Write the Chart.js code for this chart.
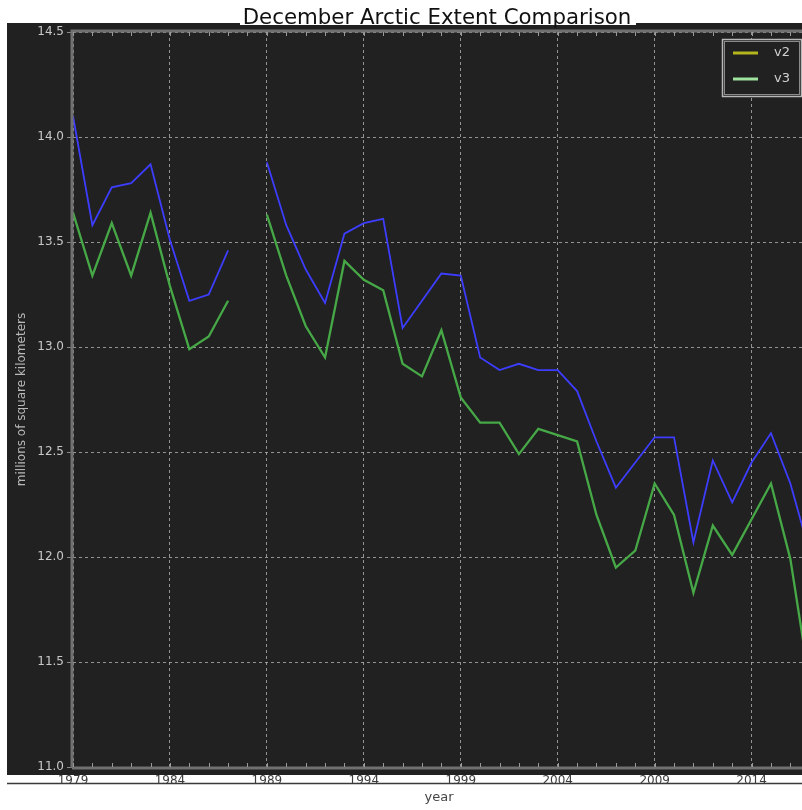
<!DOCTYPE html>
<html>
<head>
<meta charset="utf-8">
<script src="https://cdn.jsdelivr.net/npm/chart.js@4/dist/chart.umd.min.js"></script>
<style>
html,body{margin:0;padding:0;background:#fff;overflow:hidden}
#wrap{position:relative;width:802px;height:810px}
</style>
</head>
<body>
<div id="wrap"><canvas id="c" width="802" height="810"></canvas></div>
<script>
// ---- data ----
const years = [1979,1980,1981,1982,1983,1984,1985,1986,1987,1988,1989,1990,1991,1992,1993,1994,1995,1996,1997,1998,1999,2000,2001,2002,2003,2004,2005,2006,2007,2008,2009,2010,2011,2012,2013,2014,2015,2016,2017];
const v2 = [14.10,13.58,13.76,13.78,13.87,13.51,13.22,13.25,13.46,null,13.88,13.58,13.37,13.21,13.54,13.59,13.61,13.09,13.22,13.35,13.34,12.95,12.89,12.92,12.89,12.89,12.79,12.55,12.33,12.45,12.57,12.57,12.07,12.46,12.26,12.45,12.59,12.35,12.02];
const v3 = [13.64,13.34,13.59,13.34,13.64,13.29,12.99,13.05,13.22,null,13.63,13.34,13.10,12.95,13.41,13.32,13.27,12.92,12.86,13.08,12.76,12.64,12.64,12.49,12.61,12.58,12.55,12.20,11.95,12.03,12.35,12.20,11.83,12.15,12.01,12.18,12.35,11.99,11.40];
const xTickYears = [1979,1984,1989,1994,1999,2004,2009,2014];
const yTickValues = [11.0,11.5,12.0,12.5,13.0,13.5,14.0,14.5];
const seriesNames = ['v2','v3'];
const titleText = 'December Arctic Extent Comparison';
const xAxisTitle = 'year';
const yAxisTitle = 'millions of square kilometers';

const FONT = 'DejaVu Sans';
const gridColor = 'rgba(185,185,185,0.75)';

const pagePlugin = {
  id: 'page',
  beforeDraw(chart) {
    const c = chart.ctx;
    c.save();
    c.fillStyle = '#ffffff';
    c.fillRect(0, 0, chart.width, chart.height);
    c.fillStyle = '#212121';
    c.fillRect(7, 23, chart.width - 7, 752);
    // thin dark rule under the tick labels
    c.strokeStyle = '#3a3a3a';
    c.lineWidth = 1.5;
    c.beginPath(); c.moveTo(7, 783.5); c.lineTo(chart.width, 783.5); c.stroke();
    c.restore();
  },
  afterDatasetsDraw(chart) {
    const c = chart.ctx, a = chart.chartArea, xs = chart.scales.x;
    c.save();
    // frame
    c.strokeStyle = '#707070';
    c.lineWidth = 3;
    c.beginPath();
    c.moveTo(a.left - 1, a.bottom + 1); c.lineTo(a.left - 1, a.top - 1); c.lineTo(a.right, a.top - 1);
    c.moveTo(a.left - 1, a.bottom + 1); c.lineTo(a.right, a.bottom + 1);
    c.stroke();
    // minor year ticks on top and bottom
    c.strokeStyle = '#9a9a9a';
    c.lineWidth = 1;
    c.beginPath();
    years.forEach(yr => {
      const px = Math.round(xs.getPixelForValue(yr)) + 0.5;
      if (px < a.left || px > a.right) return;
      c.moveTo(px, a.top); c.lineTo(px, a.top + 4);
      c.moveTo(px, a.bottom); c.lineTo(px, a.bottom - 4);
    });
    c.stroke();
    c.restore();
  },
  afterDraw(chart) {
    const c = chart.ctx;
    c.save();
    // title
    let fs = 18;
    c.font = fs + 'px "' + FONT + '"';
    const w = c.measureText(titleText).width;
    fs = fs * 389 / w;
    c.font = fs.toFixed(2) + 'px "' + FONT + '"';
    c.fillStyle = '#ffffff';
    c.fillRect(240, 0, 396, 25);
    c.fillStyle = '#111111';
    c.textAlign = 'center';
    c.textBaseline = 'alphabetic';
    c.fillText(titleText, 437, 23.5);
    // x axis title
    c.font = '13px "' + FONT + '"';
    c.fillStyle = '#444444';
    c.fillText(xAxisTitle, 439, 801);
    // legend
    const bx = 722, by = 39, bw = 79, bh = 57;
    c.fillStyle = '#212121';
    c.fillRect(bx, by, bw, bh);
    c.strokeStyle = '#b8b8b8';
    c.lineWidth = 1.5;
    c.strokeRect(bx + 0.5, by + 0.5, bw, bh);
    c.strokeStyle = '#8a8a8a';
    c.lineWidth = 1;
    c.strokeRect(bx + 2.5, by + 2.5, bw - 4, bh - 4);
    const legendColors = ['#b5b51e', '#9fe39f'];
    const rowsY = [53, 79];
    seriesNames.forEach((name, i) => {
      c.strokeStyle = legendColors[i];
      c.lineWidth = 3;
      c.beginPath(); c.moveTo(733, rowsY[i]); c.lineTo(758, rowsY[i]); c.stroke();
      c.fillStyle = '#d0d0d0';
      c.font = '13px "' + FONT + '"';
      c.textAlign = 'left';
      c.textBaseline = 'middle';
      c.fillText(name, 774, rowsY[i]);
    });
    c.restore();
  }
};

const toPoints = arr => years.map((yr, i) => ({ x: yr, y: arr[i] }));

new Chart(document.getElementById('c'), {
  type: 'line',
  data: {
    datasets: [
      { label: seriesNames[0], data: toPoints(v2), borderColor: '#3d3dff', borderWidth: 1.8, pointRadius: 0, tension: 0, spanGaps: false },
      { label: seriesNames[1], data: toPoints(v3), borderColor: '#46a846', borderWidth: 2.3, pointRadius: 0, tension: 0, spanGaps: false }
    ]
  },
  options: {
    responsive: false,
    animation: false,
    events: [],
    layout: { padding: { top: 32, right: 0, bottom: 0, left: 0 } },
    plugins: { legend: { display: false }, title: { display: false }, tooltip: { enabled: false } },
    scales: {
      x: {
        type: 'linear',
        min: 1979,
        max: 2016.6,
        afterBuildTicks: s => { s.ticks = xTickYears.map(v => ({ value: v })); },
        afterFit: s => { s.height = 43; },
        grid: { color: gridColor, lineWidth: 1, drawTicks: false },
        border: { display: false, dash: [3, 3] },
        ticks: { color: '#3c3c3c', font: { family: FONT, size: 12 }, padding: 7, maxRotation: 0, autoSkip: false, callback: v => String(v) }
      },
      y: {
        type: 'linear',
        min: 11,
        max: 14.5,
        afterBuildTicks: s => { s.ticks = yTickValues.map(v => ({ value: v })); },
        afterFit: s => { s.width = 73; },
        grid: { color: gridColor, lineWidth: 1, drawTicks: true, tickLength: 6, tickColor: '#8a8a8a' },
        border: { display: false, dash: [3, 3] },
        ticks: { color: '#c8c8c8', font: { family: FONT, size: 12 }, padding: 3, callback: v => Number(v).toFixed(1) },
        title: { display: true, text: yAxisTitle, color: '#b8b8b8', font: { family: FONT, size: 12 }, padding: { top: 15, bottom: 0 } }
      }
    }
  },
  plugins: [pagePlugin]
});
</script>
</body>
</html>
